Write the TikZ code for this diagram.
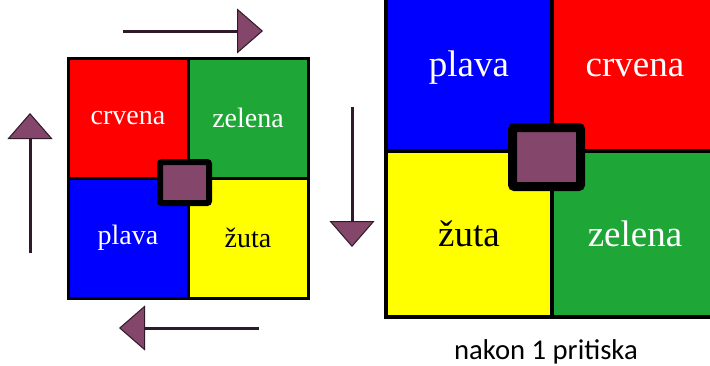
\documentclass[tikz,border=0pt]{standalone}
\usepackage{fontspec}
\setmainfont{Liberation Serif}
\newfontfamily\beschrift{Carlito}
\usepackage{tikz}
\usetikzlibrary{positioning, arrows.meta}

\definecolor{rot}{RGB}{255,0,0}
\definecolor{gruen}{RGB}{30,167,55}
\definecolor{blau}{RGB}{0,0,255}
\definecolor{gelb}{RGB}{255,255,0}
\definecolor{tipkafarbe}{RGB}{132,70,106}
\definecolor{pfeillinie}{RGB}{46,26,40}

\begin{document}
\begin{tikzpicture}[x=0.75pt, y=-0.75pt,
                feld/.style={draw=black, line width=2.25pt, rectangle, minimum size=90pt, inner sep=0pt, font=\fontsize{21}{24}\selectfont},
                grossfeld/.style={feld, line width=3pt, minimum size=124.5pt, font=\fontsize{27.75}{32}\selectfont},
                tipka/.style={draw=black, fill=tipkafarbe, rectangle, rounded corners=1.5pt, inner sep=0pt},
                pfeil/.style={draw=pfeillinie, line width=2.25pt, -{Triangle[length=19.5pt, width=33.75pt, fill=tipkafarbe, line width=0.75pt]}}
            ]
            \clip (0,0) rectangle (710,365);

            % Felder links
            \node[feld, fill=rot, text=white] (crvL) at (128,118) {crvena};
            \node[feld, fill=gruen, text=white] (zelL) at (248,118) {zelena};
            \node[feld, fill=blau, text=white] (plaL) at (128,238) {plava};
            \node[feld, fill=gelb, text=black] (zutL) at (248,238) {žuta};
            \node[tipka, line width=4.5pt, minimum width=36.75pt, minimum height=30.75pt] (tipkaL) at (184.5,182.5) {};

            % Felder rechts
            \node[grossfeld, fill=blau, text=white] (plaR) at (469,68) {plava};
            \node[grossfeld, fill=rot, text=white] (crvR) at (635,68) {crvena};
            \node[grossfeld, fill=gelb, text=black] (zutR) at (469,234) {žuta};
            \node[grossfeld, fill=gruen, text=white] (zelR) at (635,234) {zelena};
            \node[tipka, line width=6.75pt, minimum width=51pt, minimum height=44.25pt] (tipkaR) at (546.5,157) {};

            \node[font=\beschrift\fontsize{21.5}{24}\selectfont] (nakon) at (546,352) {nakon 1 pritiska};

            % Pfeile
            \coordinate (oA) at (123,31);
            \coordinate (oB) at (263,31);
            \coordinate (dA) at (352,107);
            \coordinate (dB) at (352,247);
            \coordinate (uA) at (259,328);
            \coordinate (uB) at (119,328);
            \coordinate (lA) at (30,253);
            \coordinate (lB) at (30,113);
            \draw[pfeil] (oA) -- (oB);
            \draw[pfeil] (dA) -- (dB);
            \draw[pfeil] (uA) -- (uB);
            \draw[pfeil] (lA) -- (lB);

        \end{tikzpicture}
\end{document}
